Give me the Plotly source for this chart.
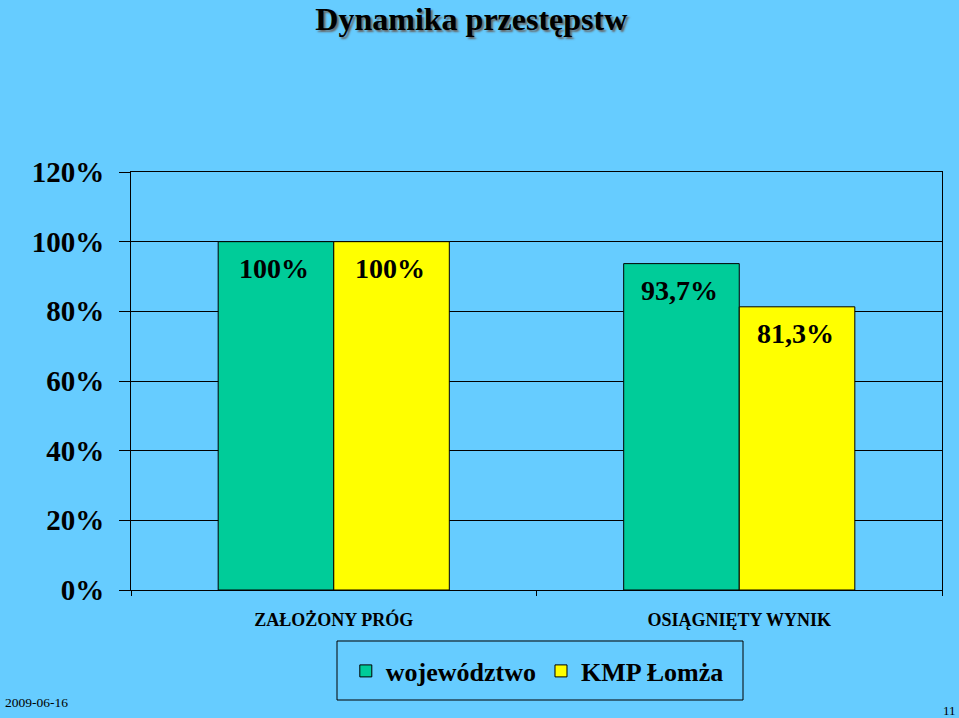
import plotly.graph_objects as go

categories = ["ZAŁOŻONY PRÓG", "OSIĄGNIĘTY WYNIK"]
wojewodztwo = [100.0, 93.7]
kmp_lomza = [100.0, 81.3]
y_ticks = [0, 20, 40, 60, 80, 100, 120]
y_tick_labels = [f"{v}%" for v in y_ticks]


def fmt(v):
    s = f"{v:.1f}".rstrip("0").rstrip(".")
    return s.replace(".", ",") + "%"


SERIF = "Liberation Serif, Times New Roman, serif"
BG = "#66CCFF"

fig = go.Figure()
fig.add_trace(go.Bar(
    x=categories, y=wojewodztwo, name="województwo",
    marker=dict(color="#00CC99", line=dict(color="black", width=1)),
))
fig.add_trace(go.Bar(
    x=categories, y=kmp_lomza, name="KMP Łomża",
    marker=dict(color="#FFFF00", line=dict(color="black", width=1)),
))

# value labels placed inside bar tops
for series, shift in ((wojewodztwo, -58), (kmp_lomza, 58)):
    for cat, v in zip(categories, series):
        fig.add_annotation(
            x=cat, y=v, xref="x", yref="y", xshift=shift - 2, yshift=-9,
            xanchor="center", yanchor="top", showarrow=False, text=fmt(v),
            font=dict(family=SERIF, size=28, color="black", weight="bold"),
        )

fig.update_layout(
    width=959, height=718,
    paper_bgcolor=BG, plot_bgcolor=BG,
    margin=dict(l=131, r=17, t=172, b=128),
    barmode="group", bargap=0.43, bargroupgap=0,
    font=dict(family=SERIF, color="black"),
    title=dict(
        text="<b>Dynamika przestępstw</b>",
        x=0.4915, xanchor="center", y=0.99, yanchor="top",
        font=dict(family=SERIF, size=32, color="black",
                  shadow="2px 2px 2px #666666"),
    ),
    legend=dict(
        orientation="h", x=0.501, xanchor="center",
        y=-(671 - 590) / 418, yanchor="middle",
        borderwidth=0, bgcolor="rgba(0,0,0,0)",
        font=dict(family=SERIF, size=26, color="black", weight="bold"),
        itemclick=False,
    ),
    showlegend=True,
)

# legend frame
fig.add_shape(
    type="rect", xref="paper", yref="paper",
    x0=(337 - 131) / 811, x1=(743 - 131) / 811,
    y0=-(641 - 590) / 418, y1=-(700 - 590) / 418,
    line=dict(color="black", width=1), fillcolor="rgba(0,0,0,0)",
)

fig.update_yaxes(
    range=[0, 120], tickvals=y_ticks, ticktext=y_tick_labels,
    showgrid=True, gridcolor="black", gridwidth=1,
    showline=True, linecolor="black", linewidth=1, mirror=True,
    ticks="outside", ticklen=11, tickcolor="black",
    ticklabelstandoff=9,
    tickfont=dict(family=SERIF, size=29, color="black", weight="bold"),
    zeroline=False,
)
fig.update_xaxes(
    showline=True, linecolor="black", linewidth=1, mirror=True,
    ticks="outside", ticklen=5, tickcolor="black", tickson="boundaries",
    ticklabelstandoff=13,
    tickfont=dict(family=SERIF, size=18, color="black", weight="bold"),
)

fig.add_annotation(
    text="2009-06-16", xref="paper", yref="paper",
    x=-128 / 811, y=-(702 - 590) / 418, xanchor="left", yanchor="middle",
    showarrow=False, font=dict(family=SERIF, size=13.5, color="black"),
)
fig.add_annotation(
    text="11", xref="paper", yref="paper",
    x=(958 - 131) / 811, y=-(710 - 590) / 418, xanchor="right", yanchor="middle",
    showarrow=False, font=dict(family=SERIF, size=13, color="black"),
)

fig.write_html("out.html")
